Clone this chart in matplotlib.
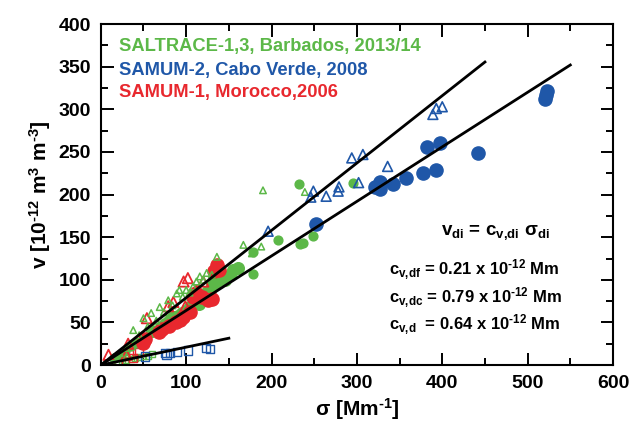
import matplotlib
matplotlib.use("Agg")
import matplotlib.pyplot as plt
import numpy as np

# SAMUM-2 (Cabo Verde, 2008)
blue_circ_x = [252, 321, 327, 327, 342, 357, 378, 393, 382, 397, 442, 520, 522, 523]
blue_circ_y = [165, 209, 215, 207, 212, 219, 225, 229, 256, 260, 249, 312, 317, 321]
blue_tri_x = [196, 246, 249, 264, 278, 279, 294, 302, 307, 336, 389, 393, 400]
blue_tri_y = [157, 197, 204, 198, 204, 209, 243, 214, 247, 233, 294, 301, 303]
blue_sq_x = [52, 75, 77, 81, 89, 102, 123, 128]
blue_sq_y = [10, 14, 12, 14, 15, 17, 20, 19]

# SAMUM-1 (Morocco, 2006)
red_circ_x = [49, 52, 68, 72, 80, 88, 93, 96, 105, 108, 112, 118, 125, 130, 133, 136, 138]
red_circ_y = [26, 30, 39, 42, 46, 50, 53, 56, 62, 80, 84, 80, 76, 78, 110, 117, 112]
red_tri_x = [9, 30, 32, 54, 79, 85, 97, 99, 102, 112, 120]
red_tri_y = [12, 12, 25, 55, 69, 74, 98, 69, 102, 88, 98]
red_sq_x = [20, 28, 33, 38, 45]
red_sq_y = [5, 10, 13, 8, 15]

# SALTRACE-1,3 (Barbados, 2013/14)
green_big_x = [60, 70, 75, 80, 85, 90, 95, 100, 105, 108, 112, 115, 118, 120, 124,
               128, 130, 134, 138, 142, 146, 151, 155, 161]
green_big_y = [40, 45, 48, 52, 56, 58, 61, 64, 68, 72, 75, 72, 78, 82, 86,
               88, 93, 96, 100, 103, 100, 106, 111, 114]
green_small_x = [15, 22, 28, 35, 42, 178, 178, 207, 232, 233, 237, 249, 296]
green_small_y = [8, 12, 16, 22, 26, 107, 133, 147, 212, 142, 143, 151, 213]
green_tri_x = [15, 22, 30, 38, 45, 50, 55, 59, 65, 69, 74, 79, 84, 89, 92, 96, 100,
               104, 108, 112, 116, 120, 124, 130, 136, 167, 177, 188, 190, 239]
green_tri_y = [9, 14, 20, 41, 35, 55, 45, 61, 52, 68, 62, 76, 70, 84, 88, 80, 88,
               85, 92, 98, 104, 100, 108, 106, 127, 141, 131, 139, 205, 203]
green_sq_x = [20, 25, 30, 35, 40, 45, 50, 55, 60]
green_sq_y = [4, 5, 6, 7, 8, 9, 10, 11, 13]

# fitted coefficients and line extents
c_df, c_dc, c_d = 0.21, 0.79, 0.64
x_end_df, x_end_dc, x_end_d = 150, 450, 550

GREEN = "#5cb848"
BLUE = "#1f57a8"
RED = "#e8282e"

plt.rcParams["font.family"] = ["Liberation Sans", "DejaVu Sans"]
plt.rcParams["font.weight"] = "bold"
plt.rcParams["mathtext.fontset"] = "custom"
plt.rcParams["mathtext.rm"] = "Liberation Sans:bold"
plt.rcParams["mathtext.it"] = "Liberation Sans:bold"
plt.rcParams["mathtext.bf"] = "Liberation Sans:bold"

fig = plt.figure(figsize=(6.3, 4.3), dpi=100)
ax = fig.add_axes([0.160, 0.151, 0.813, 0.793])

# open markers first, then filled
ax.scatter(green_sq_x, green_sq_y, marker="s", s=18, facecolors="none",
           edgecolors=GREEN, linewidths=1.0, zorder=2)
ax.scatter(red_sq_x, red_sq_y, marker="s", s=30, facecolors="none",
           edgecolors=RED, linewidths=1.0, zorder=2)
ax.scatter(blue_sq_x, blue_sq_y, marker="s", s=35, facecolors="none",
           edgecolors=BLUE, linewidths=1.0, zorder=2)

ax.scatter(green_big_x, green_big_y, marker="o", s=70, color=GREEN, zorder=2)
ax.scatter(green_small_x, green_small_y, marker="o", s=40, color=GREEN, zorder=2)
ax.scatter(red_circ_x, red_circ_y, marker="o", s=90, color=RED, zorder=2)
ax.scatter(blue_circ_x, blue_circ_y, marker="o", s=90, color=BLUE, zorder=2)

ax.scatter(red_tri_x, red_tri_y, marker="^", s=55, facecolors="none",
           edgecolors=RED, linewidths=1.3, zorder=3)
ax.scatter(green_tri_x, green_tri_y, marker="^", s=22, facecolors="none",
           edgecolors=GREEN, linewidths=1.1, zorder=3)
ax.scatter(blue_tri_x, blue_tri_y, marker="^", s=50, facecolors="none",
           edgecolors=BLUE, linewidths=1.2, zorder=3)

# regression lines through origin
for c, xe in [(c_df, x_end_df), (c_dc, x_end_dc), (c_d, x_end_d)]:
    xs = np.array([0, xe])
    ax.plot(xs, c * xs, color="black", lw=2.0, zorder=4)

ax.set_xlim(0, 600)
ax.set_ylim(0, 400)
ax.set_xticks(np.arange(0, 601, 100))
ax.set_yticks(np.arange(0, 401, 50))
ax.set_xticks(np.arange(50, 600, 100), minor=True)
ax.set_yticks(np.arange(25, 400, 50), minor=True)
ax.tick_params(which="both", direction="in", top=True, right=True,
               labelsize=14, width=1.4)
ax.tick_params(which="major", length=9, pad=7)
ax.tick_params(which="minor", length=5)
for lab in ax.get_xticklabels() + ax.get_yticklabels():
    lab.set_fontweight("bold")
for sp in ax.spines.values():
    sp.set_linewidth(1.5)

ax.set_xlabel(r"σ [Mm$^{\text{-1}}$]", fontsize=15, fontweight="bold", labelpad=3)
ax.set_ylabel(r"v [10$^{\text{-12}}$ m$^{3}$ m$^{\text{-3}}$]", fontsize=15,
              fontweight="bold", labelpad=4)

ax.text(0.035, 0.935, "SALTRACE-1,3, Barbados, 2013/14", color=GREEN,
        transform=ax.transAxes, fontsize=13.2, fontweight="bold", va="center")
ax.text(0.035, 0.865, "SAMUM-2, Cabo Verde, 2008", color=BLUE,
        transform=ax.transAxes, fontsize=13.2, fontweight="bold", va="center")
ax.text(0.035, 0.798, "SAMUM-1, Morocco,2006", color=RED,
        transform=ax.transAxes, fontsize=13.2, fontweight="bold", va="center")

ax.text(0.77, 0.39, r"v$_{\text{di}}$ = c$_{\text{v,di}}$ σ$_{\text{di}}$",
        transform=ax.transAxes, fontsize=13.5, fontweight="bold",
        ha="center", va="center")
ax.text(0.5625, 0.279, r"c$_{\text{v,df}}$ = 0.21 x 10$^{\text{-12}}$ Mm",
        transform=ax.transAxes, fontsize=12, fontweight="bold", va="center")
ax.text(0.5625, 0.196, r"c$_{\text{v,dc}}$ = 0.79 x 10$^{\text{-12}}$ Mm",
        transform=ax.transAxes, fontsize=12, fontweight="bold", va="center")
ax.text(0.5625, 0.117, r"c$_{\text{v,d}}$  = 0.64 x 10$^{\text{-12}}$ Mm",
        transform=ax.transAxes, fontsize=12, fontweight="bold", va="center")

fig.savefig("out.png", dpi=100)
